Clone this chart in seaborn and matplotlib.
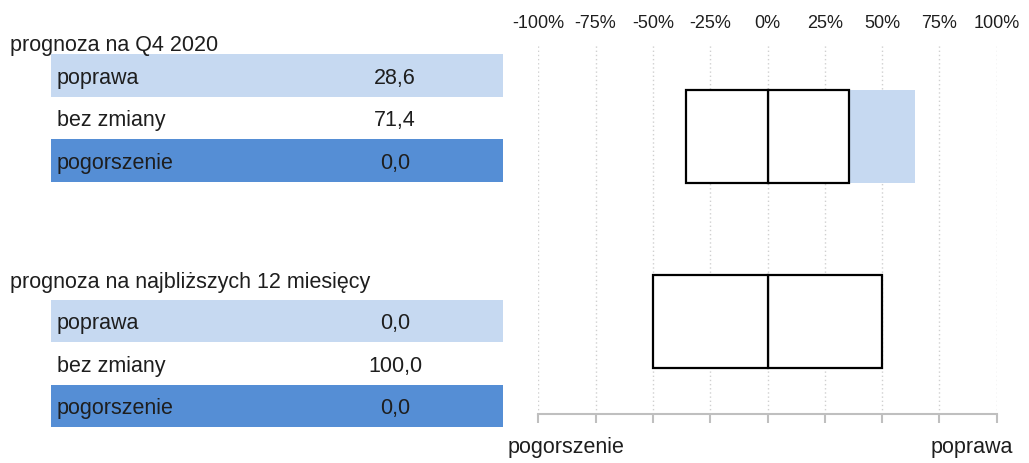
import matplotlib
matplotlib.use("Agg")
import matplotlib.pyplot as plt
from matplotlib.patches import Rectangle
import numpy as np
import pandas as pd
import seaborn as sns

# Survey answers (% of respondents) for each forecast horizon
groups = ["prognoza na Q4 2020", "prognoza na najbliższych 12 miesięcy"]
categories = ["poprawa", "bez zmiany", "pogorszenie"]
poprawa = [28.6, 0.0]
bez_zmiany = [71.4, 100.0]
pogorszenie = [0.0, 0.0]
x_ticks = [-100, -75, -50, -25, 0, 25, 50, 75, 100]
x_tick_labels = ["-100%", "-75%", "-50%", "-25%", "0%", "25%", "50%", "75%", "100%"]
side_labels = ["pogorszenie", "poprawa"]

LIGHT = "#C6D9F1"
DARK = "#558ED5"
TEXT = "#1E1E1E"
GRID = "#D0D0D0"
AXIS = "#BFBFBF"
FS = 15.5

sns.set_theme(style="white")
plt.rcParams["font.family"] = ["Liberation Sans", "DejaVu Sans"]

W, H = 1029, 464
fig = plt.figure(figsize=(W / 100, H / 100), dpi=100)
fig.patch.set_facecolor("white")

# ---- left-hand table (drawn in pixel space) ----
tab = fig.add_axes([0, 0, 1, 1])
tab.set_xlim(0, W)
tab.set_ylim(H, 0)
tab.axis("off")

title_baselines = [51, 288]
table_tops = [55, 300.5]
row_h = 42.5
row_fill = {"poprawa": LIGHT, "bez zmiany": "white", "pogorszenie": DARK}
for g, name in enumerate(groups):
    tab.text(10, title_baselines[g], name, ha="left", va="baseline",
             fontsize=FS, color=TEXT)
    vals = [poprawa[g], bez_zmiany[g], pogorszenie[g]]
    for i, (cat, v) in enumerate(zip(categories, vals)):
        y0 = table_tops[g] + i * row_h
        tab.add_patch(Rectangle((51, y0), 452, row_h,
                                facecolor=row_fill[cat], edgecolor="none"))
        base = y0 + row_h / 2 + 7.5
        tab.text(57, base, cat, ha="left", va="baseline", fontsize=FS, color=TEXT)
        tab.text(395, base, f"{v:.1f}".replace(".", ","), ha="center",
                 va="baseline", fontsize=FS, color=TEXT)

tab.text(508, 453, side_labels[0], ha="left", va="baseline", fontsize=FS, color=TEXT)
tab.text(1013, 453, side_labels[1], ha="right", va="baseline", fontsize=FS, color=TEXT)

# ---- diverging bars ----
ax = fig.add_axes([538.3 / W, 49 / H, 458.4 / W, 370 / H])
ax.set_facecolor("none")

ypos = [1.0, 3.0]
df = pd.DataFrame({
    "grupa": ypos,
    "bez_half": [b / 2 for b in bez_zmiany],
    "right": [b / 2 + p for b, p in zip(bez_zmiany, poprawa)],
    "left": [-(b / 2 + q) for b, q in zip(bez_zmiany, pogorszenie)],
})
df["bez_neg"] = -df["bez_half"]

common = dict(y="grupa", data=df, orient="y", native_scale=True, width=0.5,
              errorbar=None, saturation=1, ax=ax)
sns.barplot(x="right", color=LIGHT, edgecolor="none", linewidth=0, **common)
sns.barplot(x="left", color=DARK, edgecolor="none", linewidth=0, **common)
sns.barplot(x="bez_half", color="white", edgecolor="black", linewidth=1.6, **common)
sns.barplot(x="bez_neg", color="white", edgecolor="black", linewidth=1.6, **common)

ax.set_xlim(-100, 100)
ax.set_ylim(4, 0)
ax.set_xlabel("")
ax.set_ylabel("")
ax.set_yticks([])
ax.set_xticks(x_ticks)
ax.set_xticklabels(x_tick_labels)
ax.grid(axis="x", linestyle=(0, (1, 2)), color=GRID, linewidth=1)
ax.set_axisbelow(True)
for s in ["top", "left", "right"]:
    ax.spines[s].set_visible(False)
ax.spines["bottom"].set_color(AXIS)
ax.spines["bottom"].set_linewidth(1.5)
ax.tick_params(axis="x", which="major", bottom=True, top=False,
               labelbottom=False, labeltop=True, direction="out",
               length=6.5, width=1.5, color=AXIS, labelsize=13,
               labelcolor=TEXT, pad=3)

fig.savefig("out.png", dpi=100, facecolor="white")
